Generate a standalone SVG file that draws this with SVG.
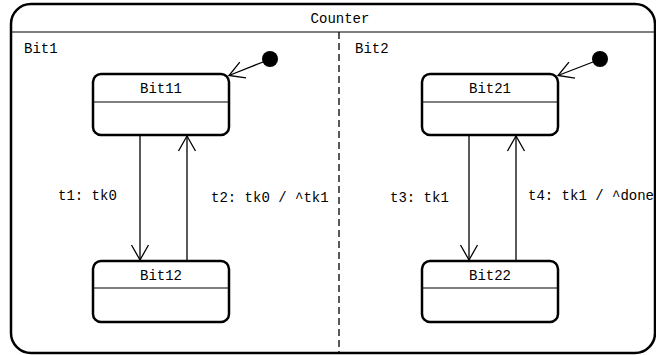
<svg xmlns="http://www.w3.org/2000/svg" width="656" height="355" viewBox="0 0 656 355">
  <style>
    .lbl { font-family: "Liberation Mono", "DejaVu Sans Mono", monospace; font-size: 14px; fill: #000; }
    .mid { text-anchor: middle; }
    .state { fill: #fff; stroke: #000; stroke-width: 2.5; }
    .sep { stroke: #000; stroke-width: 1.2; fill: none; }
    .edge { stroke: #000; stroke-width: 1.3; fill: none; marker-end: url(#open); }
  </style>
  <defs>
    <marker id="open" markerUnits="userSpaceOnUse" viewBox="-18 -11 20 22" refX="0" refY="0" markerWidth="20" markerHeight="22" orient="auto">
      <path d="M -15,-8.5 L 0,0 L -15,8.5" fill="none" stroke="#000" stroke-width="1.3"/>
    </marker>
  </defs>

  <!-- composite state Counter -->
  <g id="Counter">
    <rect x="11" y="4" width="644" height="349" rx="20" ry="20" fill="#fff" stroke="#000" stroke-width="2.5"/>
    <line class="sep" x1="11" y1="32" x2="655" y2="32"/>
    <text class="lbl mid" x="340" y="23">Counter</text>
    <line x1="339" y1="32" x2="339" y2="353" stroke="#000" stroke-width="1.3" stroke-dasharray="7,4"/>
    <text class="lbl" x="24" y="53">Bit1</text>
    <text class="lbl" x="355" y="53">Bit2</text>
  </g>

  <!-- region Bit1 -->
  <g id="init1"><circle cx="270" cy="59" r="8" fill="#000"/></g>
  <g id="Bit11">
    <rect class="state" x="93" y="74" width="136" height="61" rx="8" ry="8"/>
    <line class="sep" x1="93" y1="102" x2="229" y2="102"/>
    <text class="lbl mid" x="161" y="93">Bit11</text>
  </g>
  <g id="Bit12">
    <rect class="state" x="93" y="261" width="136" height="61" rx="8" ry="8"/>
    <line class="sep" x1="93" y1="288" x2="229" y2="288"/>
    <text class="lbl mid" x="161" y="280">Bit12</text>
  </g>

  <!-- region Bit2 -->
  <g id="init2"><circle cx="600" cy="59" r="8" fill="#000"/></g>
  <g id="Bit21">
    <rect class="state" x="422" y="74" width="136" height="61" rx="8" ry="8"/>
    <line class="sep" x1="422" y1="102" x2="558" y2="102"/>
    <text class="lbl mid" x="490" y="93">Bit21</text>
  </g>
  <g id="Bit22">
    <rect class="state" x="422" y="261" width="136" height="61" rx="8" ry="8"/>
    <line class="sep" x1="422" y1="288" x2="558" y2="288"/>
    <text class="lbl mid" x="490" y="280">Bit22</text>
  </g>

  <!-- transitions -->
  <g id="connectors">
    <line class="edge" x1="263" y1="62" x2="229" y2="75.5"/>
    <line class="edge" x1="593" y1="62" x2="558" y2="75.5"/>
    <line class="edge" x1="140" y1="135" x2="140" y2="260"/>
    <line class="edge" x1="187" y1="261" x2="187" y2="136"/>
    <line class="edge" x1="469" y1="135" x2="469" y2="260"/>
    <line class="edge" x1="516" y1="261" x2="516" y2="136"/>
    <text class="lbl" x="58" y="200">t1: tk0</text>
    <text class="lbl" x="211" y="202">t2: tk0 / ^tk1</text>
    <text class="lbl" x="390" y="202">t3: tk1</text>
    <text class="lbl" x="528" y="200">t4: tk1 / ^done</text>
  </g>
</svg>
